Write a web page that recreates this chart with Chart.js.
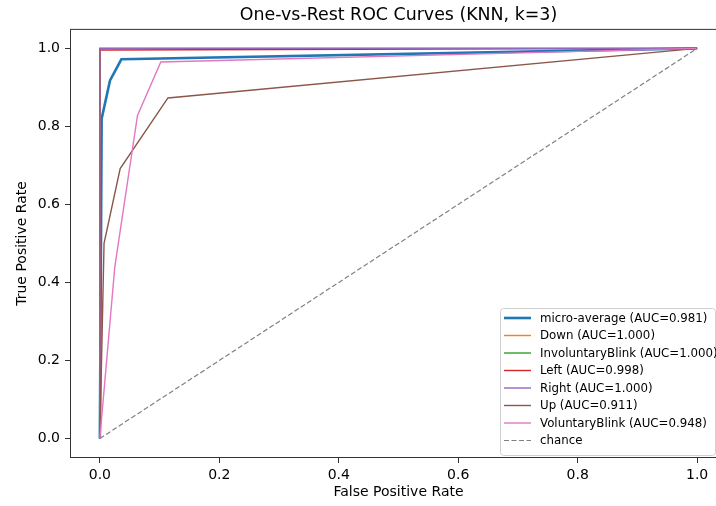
<!DOCTYPE html>
<html>
<head>
<meta charset="utf-8">
<script src="https://cdn.jsdelivr.net/npm/chart.js@4/dist/chart.umd.min.js"></script>
<style>
  html, body { margin: 0; padding: 0; background: #fff; }
  #wrap { width: 716px; height: 506px; overflow: hidden; }
</style>
</head>
<body>
<div id="wrap"><canvas id="roc" width="727" height="506"></canvas></div>
<script>
// class names and AUC values from the legend
const classNames = ['micro-average', 'Down', 'InvoluntaryBlink', 'Left', 'Right', 'Up', 'VoluntaryBlink'];
const aucValues = [0.981, 1.000, 1.000, 0.998, 1.000, 0.911, 0.948];
const lineColors = ['#1f77b4', '#ff7f0e', '#2ca02c', '#d62728', '#9467bd', '#8c564b', '#e377c2'];

// ROC points
const fprMicro = [0, 0.003, 0.017, 0.036, 1];
const tprMicro = [0, 0.82, 0.918, 0.972, 1];
const fprDown = [0, 0, 1];
const tprDown = [0, 1, 1];
const fprInvol = [0, 0, 1];
const tprInvol = [0, 1, 1];
const fprLeft = [0, 0, 1];
const tprLeft = [0, 0.996, 1];
const fprRight = [0, 0, 1];
const tprRight = [0, 1, 1];
const fprUp = [0, 0.007, 0.034, 0.114, 1];
const tprUp = [0, 0.5, 0.692, 0.873, 1];
const fprVol = [0, 0.025, 0.063, 0.102, 1];
const tprVol = [0, 0.44, 0.828, 0.965, 1];
const fprChance = [0, 1];
const tprChance = [0, 1];

const tickValues = [0, 0.2, 0.4, 0.6, 0.8, 1.0];

function toPoints(xs, ys) {
    return xs.map((x, i) => ({ x: x, y: ys[i] }));
}

const curves = [
    [fprMicro, tprMicro], [fprDown, tprDown], [fprInvol, tprInvol],
    [fprLeft, tprLeft], [fprRight, tprRight], [fprUp, tprUp], [fprVol, tprVol]
];

let datasets = curves.map((c, i) => ({
    label: classNames[i] + ' (AUC=' + aucValues[i].toFixed(3) + ')',
    data: toPoints(c[0], c[1]),
    borderColor: lineColors[i],
    borderWidth: i === 0 ? 2.6 : 1.4,
    borderDash: [],
    showLine: true,
    pointRadius: 0,
    fill: false
}));
datasets.push({
    label: 'chance',
    data: toPoints(fprChance, tprChance),
    borderColor: '#808080',
    borderWidth: 1.2,
    borderDash: [5, 2.5],
    showLine: true,
    pointRadius: 0,
    fill: false
});
// matplotlib draws later lines on top
datasets.forEach((d, i) => { d.order = datasets.length - i; });

const FONT = 'DejaVu Sans';

// frame round the plot area
const framePlugin = {
    id: 'frame',
    afterDatasetsDraw(chart) {
        const a = chart.chartArea, ctx = chart.ctx;
        ctx.save();
        ctx.strokeStyle = '#333';
        ctx.lineWidth = 1;
        ctx.strokeRect(a.left + 0.5, a.top + 0.5, a.right - a.left - 1, a.bottom - a.top - 1);
        ctx.restore();
    }
};

// legend inside the axes, lower right
const legendPlugin = {
    id: 'innerLegend',
    afterDraw(chart) {
        const ctx = chart.ctx;
        const x0 = 500, y0 = 308, w = 215, h = 147;
        ctx.save();
        ctx.fillStyle = 'rgba(255,255,255,0.8)';
        ctx.strokeStyle = '#d0d0d0';
        ctx.lineWidth = 1;
        ctx.beginPath();
        ctx.roundRect(x0 + 0.5, y0 + 0.5, w, h, 3);
        ctx.fill();
        ctx.stroke();
        ctx.font = '11.8px "' + FONT + '"';
        ctx.textBaseline = 'middle';
        chart.data.datasets.forEach((d, i) => {
            const y = 318 + i * 17.5;
            ctx.strokeStyle = d.borderColor;
            ctx.lineWidth = d.borderWidth;
            ctx.setLineDash(d.borderDash);
            ctx.beginPath();
            ctx.moveTo(504, y);
            ctx.lineTo(531, y);
            ctx.stroke();
            ctx.setLineDash([]);
            ctx.fillStyle = '#000';
            ctx.fillText(d.label, 540, y + 0.5);
        });
        ctx.restore();
    }
};

function axisOptions(title, isX) {
    return {
        type: 'linear',
        min: -0.05,
        max: 1.05,
        afterBuildTicks: (scale) => { scale.ticks = tickValues.map(v => ({ value: v })); },
        afterFit: (scale) => {
            if (isX) scale.height = 48; else scale.width = 70;
        },
        ticks: {
            color: '#000',
            padding: isX ? 4 : 5,
            font: { family: FONT, size: 14 },
            callback: (v) => Number(v).toFixed(1),
            maxRotation: 0
        },
        grid: { drawOnChartArea: false, drawTicks: true, tickLength: 5, color: '#333' },
        border: { display: false },
        title: {
            display: true,
            text: title,
            color: '#000',
            font: { family: FONT, size: 14 },
            padding: isX ? { top: 0, bottom: 5 } : { top: 14, bottom: 0 }
        }
    };
}

new Chart(document.getElementById('roc').getContext('2d'), {
    type: 'scatter',
    data: { datasets: datasets },
    options: {
        responsive: false,
        animation: false,
        devicePixelRatio: 1,
        layout: { padding: { left: 0, right: 0, top: 0, bottom: 0 } },
        plugins: {
            legend: { display: false },
            tooltip: { enabled: false },
            title: {
                display: true,
                fullSize: false,
                text: 'One-vs-Rest ROC Curves (KNN, k=3)',
                color: '#000',
                font: { family: FONT, size: 17.4, weight: 'normal' },
                padding: { top: 5, bottom: 3 }
            }
        },
        scales: {
            x: axisOptions('False Positive Rate', true),
            y: axisOptions('True Positive Rate', false)
        }
    },
    plugins: [framePlugin, legendPlugin]
});
</script>
</body>
</html>
